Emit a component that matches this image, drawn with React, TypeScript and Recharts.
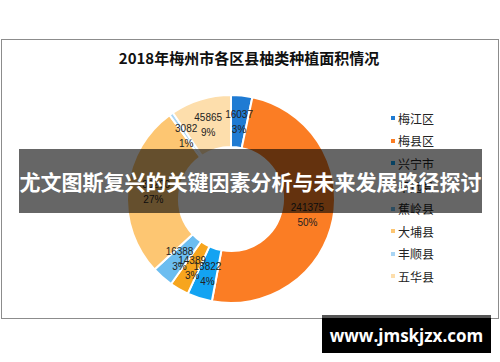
import { PieChart, Pie, Cell, Legend } from "recharts"

// 2018年梅州市各区县柚类种植面积情况
const districts = ["梅江区", "梅县区", "兴宁市", "平远县", "蕉岭县", "大埔县", "丰顺县", "五华县"]
const areas = [16037, 241375, 18822, 14389, 16388, 130200, 3082, 45865]
const colors = ["#1f7bd3", "#fb7d24", "#13a3f2", "#f7a51d", "#6cbdf0", "#fdc672", "#a9d5f4", "#fddeac"]

const data = districts.map((name, i) => ({ name, value: areas[i], color: colors[i] }))

const RADIAN = Math.PI / 180
const FONT = "'Noto Sans CJK SC', 'Noto Sans', sans-serif"

const renderLabel = (props: any) => {
  const { cx, cy, midAngle, innerRadius, outerRadius, value, percent } = props
  const r = (innerRadius + outerRadius) / 2
  const x = cx + r * Math.cos(-midAngle * RADIAN)
  const y = cy + r * Math.sin(-midAngle * RADIAN)
  return (
    <text x={x} y={y} textAnchor="middle" fill="#222" fontSize={10} fontFamily="'Liberation Sans', sans-serif">
      <tspan x={x} dy={-3}>{value}</tspan>
      <tspan x={x} dy={15}>{Math.round(percent * 100)}%</tspan>
    </text>
  )
}

// keep the legend in data order (recharts sorts payload by default)
const renderLegend = () => (
  <div>
    {data.map((entry) => (
      <div key={entry.name} style={{ display: "flex", alignItems: "center", height: 22.6 }}>
        <div style={{ width: 4, height: 4, backgroundColor: entry.color, marginRight: 3 }}></div>
        <span style={{ fontSize: 12, color: "#222", fontFamily: FONT }}>{entry.name}</span>
      </div>
    ))}
  </div>
)

export default function App() {
  return (
    <div style={{ position: "absolute", left: 0, top: 0, width: 500, height: 362, background: "#fff", overflow: "hidden" }}>
      {/* chart frame */}
      <div style={{ position: "absolute", left: 1, top: 39, width: 496, height: 278, border: "1px solid #8c8c8c" }}></div>
      <div
        style={{
          position: "absolute",
          left: 0,
          top: 47,
          width: 498,
          textAlign: "center",
          fontSize: 15,
          fontWeight: "bold",
          color: "#111",
          fontFamily: FONT,
        }}
      >
        2018年梅州市各区县柚类种植面积情况
      </div>
      <div style={{ position: "absolute", left: 0, top: 0 }}>
        <PieChart width={500} height={362}>
          <Pie
            data={data}
            dataKey="value"
            nameKey="name"
            cx={226}
            cy={194}
            innerRadius={52}
            outerRadius={104}
            startAngle={90}
            endAngle={-270}
            stroke="#fff"
            strokeWidth={2}
            label={renderLabel}
            labelLine={false}
            isAnimationActive={false}
          >
            {data.map((entry, index) => (
              <Cell key={`cell-${index}`} fill={entry.color} />
            ))}
          </Pie>
          <Legend
            layout="vertical"
            content={renderLegend}
            wrapperStyle={{ position: "absolute", left: 391, top: 107, width: 80 }}
          />
        </PieChart>
      </div>
      {/* overlay banner */}
      <div
        style={{
          position: "absolute",
          left: 19,
          top: 149,
          width: 463,
          height: 64,
          background: "rgba(0,0,0,0.6)",
          color: "#fff",
          fontSize: 21,
          fontWeight: "bold",
          fontFamily: FONT,
          display: "flex",
          alignItems: "center",
          justifyContent: "center",
          whiteSpace: "nowrap",
        }}
      >
        尤文图斯复兴的关键因素分析与未来发展路径探讨
      </div>
      {/* site stamp */}
      <div
        style={{
          position: "absolute",
          left: 322,
          top: 315,
          width: 169,
          height: 38,
          background: "#000",
          borderTop: "3px solid #555",
          boxSizing: "border-box",
          color: "#fff",
          fontSize: 17,
          fontWeight: "bold",
          fontFamily: "'Open Sans', 'DejaVu Sans', sans-serif",
          display: "flex",
          alignItems: "center",
          justifyContent: "center",
        }}
      >
        www.jmskjzx.com
      </div>
    </div>
  )
}
